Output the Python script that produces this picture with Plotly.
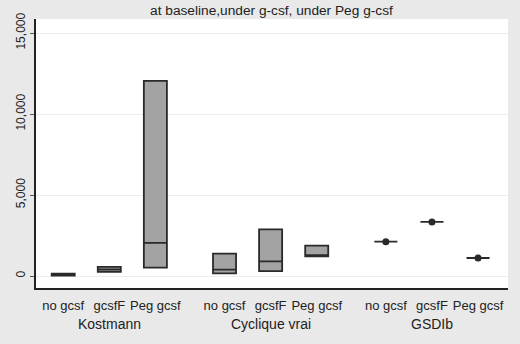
import plotly.graph_objects as go

groups = ["Kostmann", "Cyclique vrai", "GSDIb"]
subgroups = ["no gcsf", "gcsfF", "Peg gcsf"]
xpos = [1, 2, 3, 4.5, 5.5, 6.5, 8, 9, 10]
q1 = [20, 250, 520, 160, 300, 1220, 2120, 3340, 1110]
median = [60, 400, 2050, 390, 900, 1250, 2120, 3340, 1110]
q3 = [140, 560, 12050, 1380, 2880, 1870, 2120, 3340, 1110]
single_x = [8, 9, 10]
single_y = [2120, 3340, 1110]
ytick_vals = [0, 5000, 10000, 15000]
ytick_text = ["0", "5,000", "10,000", "15,000"]

font = "Liberation Sans, Arial, sans-serif"
fig = go.Figure()
fig.add_trace(go.Box(
    x=xpos, q1=q1, median=median, q3=q3,
    lowerfence=q1, upperfence=q3,
    width=0.5, fillcolor="#a3a3a3",
    line=dict(color="#2a2a2a", width=1.8),
    boxpoints=False, showlegend=False,
))
fig.add_trace(go.Scatter(
    x=single_x, y=single_y, mode="markers",
    marker=dict(color="#2a2a2a", size=7), showlegend=False,
))

fig.update_xaxes(
    range=[0.41, 10.65], tickvals=xpos, ticktext=subgroups * 3,
    showgrid=False, zeroline=False, showline=True, linecolor="#222222",
    linewidth=1.5, ticks="", ticklabelstandoff=5,
    tickfont=dict(family=font, size=13, color="#222222"),
)
fig.update_yaxes(
    range=[-741, 15864], tickvals=ytick_vals, ticktext=ytick_text,
    tickangle=-90, showgrid=True, gridcolor="#ececec", gridwidth=1,
    zeroline=False, showline=True, linecolor="#222222", linewidth=1.5,
    ticks="outside", ticklen=4, tickcolor="#555555", ticklabelstandoff=0,
    tickfont=dict(family=font, size=12, color="#222222"),
)
for gx, g in zip([2, 5.5, 9], groups):
    fig.add_annotation(x=gx, y=0, xref="x", yref="paper", text=g,
                       showarrow=False, yanchor="top", yshift=-26,
                       font=dict(family=font, size=14, color="#222222"))
fig.update_layout(
    width=520, height=344,
    margin=dict(l=36, r=12, t=19, b=56),
    paper_bgcolor="#e9e9e9", plot_bgcolor="#ffffff",
    title=dict(text="at baseline,under g-csf, under Peg g-csf", x=0.522, xanchor="center",
               y=0.97, yanchor="middle", font=dict(family=font, size=13.7, color="#222222")),
)
fig.write_html("out.html", config={"displayModeBar": False},
               post_script="document.body.style.margin='0';document.body.style.background='#e9e9e9';")
